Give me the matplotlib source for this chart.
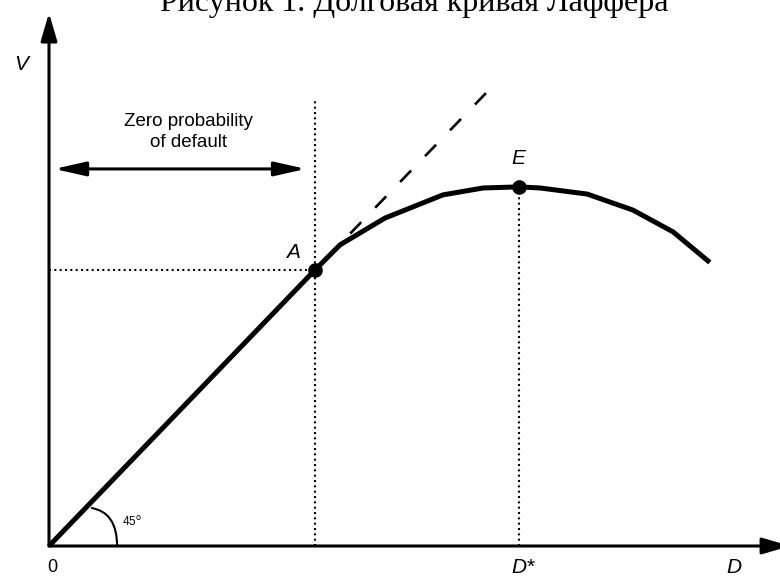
import matplotlib
matplotlib.use("Agg")
import matplotlib.pyplot as plt
from matplotlib.path import Path
from matplotlib.patches import PathPatch

# --- data (arbitrary units, 45 degree line is V = D) ---
line_D = [0, 100]
line_V = [0, 100]
curve_D = [100, 109.4, 126.3, 148.1, 163.2, 176.7, 184.6, 202.3, 219.5, 234.6, 247.7]
curve_V = [100, 109.1, 118.8, 127.2, 129.7, 130.1, 129.7, 127.5, 121.7, 113.8, 103.3]
dash_D = [100, 164.3]
dash_V = [100, 164.1]
A_pt = (100, 100)
E_pt = (176.7, 130.1)
zero_prob_top = 161.2
arrow_V = 136.6
arrow_D = [2.0, 96.5]

title = "Рисунок 1. Долговая кривая Лаффера"

fig = plt.figure(figsize=(7.8, 5.76), dpi=100)
ax = fig.add_axes([0, 0, 1, 1])
ax.set_xlim(-18.42, 274.8)
ax.set_ylim(-10.87, 197.8)
ax.axis("off")

sans = "Liberation Sans"

# axes with arrows
ax.annotate("", xy=(278.6, 0), xytext=(0, 0), annotation_clip=False,
            arrowprops=dict(arrowstyle="-|>,head_length=17,head_width=5",
                            mutation_scale=1, lw=2.2, color="k",
                            shrinkA=0, shrinkB=0))
ax.annotate("", xy=(0, 193.1), xytext=(0, 0), annotation_clip=False,
            arrowprops=dict(arrowstyle="-|>,head_length=17,head_width=5",
                            mutation_scale=1, lw=2.2, color="k",
                            shrinkA=0, shrinkB=0))

# dotted guides
dot = dict(color="k", lw=1.5, linestyle=(0, (0.96, 1.6)))
ax.plot([A_pt[0], A_pt[0]], [0, zero_prob_top], **dot)
ax.plot([0, A_pt[0]], [A_pt[1], A_pt[1]], **dot)
ax.plot([E_pt[0], E_pt[0]], [0, E_pt[1]], **dot)

# dashed continuation
ax.plot(dash_D, dash_V, color="k", lw=1.9, linestyle=(8.0, (6.0, 7.6)))

# 45 degree line and curve
ax.plot(line_D, line_V, color="k", lw=3.6, solid_capstyle="butt")
ax.plot(curve_D, curve_V, color="k", lw=3.6, solid_joinstyle="round")
ax.plot([A_pt[0], E_pt[0]], [A_pt[1], E_pt[1]], "o", color="k", ms=9.5, ls="none")

# angle arc
arc = Path([(15.8, 13.8), (25.6, 12.3), (25.6, 0)],
           [Path.MOVETO, Path.CURVE3, Path.CURVE3])
ax.add_patch(PathPatch(arc, fill=False, lw=1.5, color="k"))
ax.text(27.3, 8.7, r"45$^{\mathrm{o}}$", fontsize=8.5, family=sans,
        ha="left", va="center")

# double arrow + text
ax.annotate("", xy=(arrow_D[0], arrow_V), xytext=(arrow_D[1], arrow_V),
            arrowprops=dict(arrowstyle="<|-|>,head_length=19,head_width=4.3",
                            mutation_scale=1, lw=2.2, color="k",
                            shrinkA=0, shrinkB=0))
ax.text(52.6, 150.0, "Zero probability\nof default", fontsize=13.5,
        family=sans, ha="center", va="center", linespacing=1.25)

# labels
lab = dict(fontsize=15, family=sans, style="italic", ha="center", va="baseline")
ax.text(-10.5, 172.5, "V", **lab)
ax.text(91.7, 104.3, "A", **lab)
ax.text(176.5, 138.4, "E", **lab)
ax.text(178.0, -9.8, "D*", **lab)
ax.text(257.5, -9.8, "D", **lab)
ax.text(1.3, -9.4, "0", fontsize=13, family=sans, ha="center", va="baseline")

fig.text(0.531, 1 - 11 / 576, title, fontsize=23, family="Liberation Serif",
         ha="center", va="baseline")

fig.savefig("out.png", dpi=100)
